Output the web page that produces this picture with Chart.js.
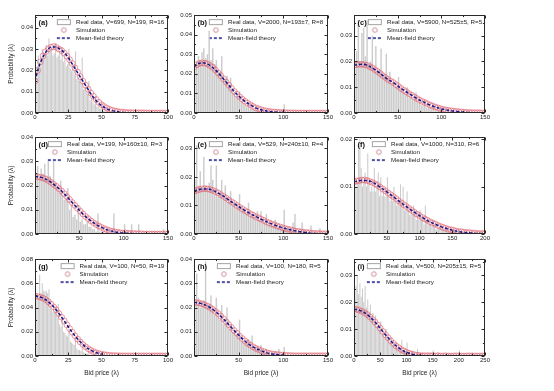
<!DOCTYPE html>
<html><head><meta charset="utf-8">
<script src="https://cdn.jsdelivr.net/npm/chart.js@4.4.1/dist/chart.umd.min.js"></script>
<style>
html,body{margin:0;padding:0;background:#fff;width:554px;height:391px;overflow:hidden;}
#wrap{position:relative;width:554px;height:391px;background:#fff;}
canvas{position:absolute;}
</style></head><body><div id="wrap"></div>
<script>
function seq(start, step, n){ const o=[]; for(let i=0;i<n;i++) o.push(+(start+i*step).toFixed(4)); return o; }

// ---------- (a) ----------
const aBars = [0.015,0.022,0.027,0.024,0.026,0.030,0.026,0.028,0.032,0.027, 0.035,0.029,0.030,0.027,0.028,0.033,0.026,0.027,0.029,0.025, 0.031,0.024,0.026,0.022,0.023,0.030,0.021,0.020,0.022,0.018, 0.029,0.016,0.017,0.015,0.014,0.026,0.011,0.012,0.010,0.009, 0.015,0.006,0.007,0.005,0.004,0.008,0.003,0.003,0.002,0.002, 0.005,0.001,0.001,0.001,0.0005,0.002,0.0005,0,0.0005,0, 0.001];
const aBarX = seq(0.5, 1, aBars.length);
const aSim = [0.0150,0.0200,0.0240,0.0268,0.0288,0.0301,0.0309,0.0312,0.0308,0.0300,0.0293,0.0281,0.0267,0.0250,0.0232,0.0212,0.0192,0.0171,0.0150,0.0131,0.0112,0.0094,0.0078,0.0063,0.0050,0.0039,0.0030,0.0023,0.0017,0.0013,0.0009,0.0007,0.0005,0.0004,0.0003,0.0002,0.0002,0.0001,0.0001,0.0001,0.0001,0.0001,0,0,0,0,0,0,0,0,0];
const aSimX = seq(0, 2, aSim.length);
const aTheoryX = [0,2.5,5,7.5,10,12.5,15,17.5,20,22.5,25,27.5,30,32.5,35,37.5,40,42.5,45,47.5,50,52.5,55,60,65,70];
const aTheoryY = [0.015,0.021,0.025,0.028,0.030,0.031,0.031,0.0305,0.0295,0.028,0.026,0.0235,0.021,0.0185,0.016,0.0135,0.011,0.0085,0.0065,0.0048,0.0035,0.0025,0.0017,0.0008,0.0003,0.0001];

// ---------- (b) ----------
const bBars = [0.022,0.026,0.029,0.027,0.031, 0.033,0.028,0.030,0.042,0.027, 0.033,0.025,0.027,0.022,0.021, 0.029,0.018,0.017,0.019,0.014, 0.018,0.011,0.010,0.008,0.009, 0.011,0.006,0.005,0.004,0.003, 0.005,0.002,0.002,0.0015,0.0012, 0.002,0.0008,0.0008,0.0006,0.0005, 0.0012,0.0004,0.0003,0.0003,0.0002, 0.0005,0.0002,0.0002,0.0001,0.0001, 0.0045,0.0002,0.0001,0.0001,0.0001, 0.0008,0.0001,0,0,0, 0.0005,0,0,0,0, 0.0002,0,0,0,0, 0.0002,0,0,0,0];
const bBarX = seq(1, 2, bBars.length);
const bSim = [0.0235,0.0246,0.0253,0.0256,0.0254,0.0250,0.0242,0.0233,0.0220,0.0205,0.0190,0.0174,0.0158,0.0142,0.0126,0.0110,0.0096,0.0083,0.0071,0.0060,0.0050,0.0042,0.0034,0.0027,0.0022,0.0017,0.0013,0.0010,0.0008,0.0006,0.0005,0.0004,0.0003,0.0002,0.0002,0.0001,0.0001,0.0001,0,0,0,0,0,0,0,0,0,0,0,0,0];
const bSimX = seq(0, 3, bSim.length);
const bTheoryX = [0,5,10,15,20,25,30,35,40,45,50,55,60,65,70,75,80,90,100];
const bTheoryY = [0.0235,0.0252,0.0256,0.0250,0.0236,0.0215,0.019,0.0163,0.0136,0.011,0.0087,0.0067,0.005,0.0036,0.0025,0.0017,0.0011,0.0005,0.0002];

// ---------- (c) ----------
const cBars = [0.017,0.024,0.036,0.020,0.031, 0.033,0.022,0.036,0.019,0.020, 0.030,0.017,0.026,0.016,0.017, 0.025,0.014,0.015,0.023,0.013, 0.016,0.011,0.012,0.010,0.010, 0.014,0.009,0.009,0.008,0.007, 0.010,0.006,0.006,0.005,0.005, 0.008,0.004,0.004,0.003,0.003, 0.005,0.002,0.002,0.002,0.0015, 0.003,0.001,0.001,0.001,0.001, 0.002,0.0005,0.0005,0.0005,0.0005, 0.001,0.0003,0.0003,0.0003,0.0003, 0.0008,0.0002,0.0002,0.0002,0.0002, 0.0005,0.0001,0.0001,0.0001,0.0001, 0.0003,0.0001,0,0,0];
const cBarX = seq(1, 2, cBars.length);
const cSim = [0.0185,0.0187,0.0189,0.0189,0.0187,0.0185,0.0180,0.0175,0.0168,0.0161,0.0153,0.0145,0.0138,0.0130,0.0124,0.0118,0.0110,0.0103,0.0095,0.0088,0.0082,0.0075,0.0069,0.0062,0.0056,0.0050,0.0045,0.0041,0.0036,0.0031,0.0027,0.0023,0.0020,0.0017,0.0014,0.0012,0.0010,0.0009,0.0007,0.0006,0.0005,0.0004,0.0003,0.0002,0.0002,0.0001,0.0001,0.0001,0.0001,0,0];
const cSimX = seq(0, 3, cSim.length);
const cTheoryX = [0,5,10,15,20,25,30,35,40,45,50,55,60,65,70,75,80,85,90,95,100,110,120,130,140];
const cTheoryY = [0.0185,0.0188,0.0189,0.0185,0.0177,0.0166,0.0153,0.0140,0.0128,0.0118,0.0105,0.0093,0.0082,0.0071,0.006,0.005,0.0042,0.0034,0.0027,0.0021,0.0016,0.0009,0.0005,0.0002,0.0001];

// ---------- (d) ----------
const dBars = [0.025,0.028,0.024,0.027,0.025, 0.029,0.023,0.030,0.024,0.022, 0.030,0.021,0.019,0.017,0.022, 0.016,0.014,0.015,0.019,0.010, 0.012,0.007,0.008,0.006,0.012, 0.005,0.006,0.004,0.004,0.005, 0.003,0.003,0.002,0.002,0.001, 0.0085,0.001,0.001,0.001,0.0005, 0.002,0.0005,0.0005,0.0005,0.0085, 0.0005,0,0,0,0.0005, 0.004,0,0,0,0.004, 0,0,0,0.004,0, 0.0005,0,0,0,0, 0,0,0.001,0,0, 0,0,0.002,0,0];
const dBarX = seq(1, 2, dBars.length);
const dSim = [0.0237,0.0236,0.0234,0.0231,0.0227,0.0221,0.0213,0.0205,0.0197,0.0187,0.0177,0.0166,0.0154,0.0142,0.0130,0.0118,0.0106,0.0094,0.0083,0.0072,0.0063,0.0054,0.0046,0.0039,0.0033,0.0027,0.0022,0.0018,0.0014,0.0011,0.0009,0.0007,0.0005,0.0004,0.0004,0.0003,0.0002,0.0002,0.0001,0.0001,0.0001,0,0,0,0,0,0,0,0,0,0];
const dSimX = seq(0, 3, dSim.length);
const dTheoryX = [0,5,10,15,20,25,30,35,40,45,50,55,60,65,70,75,80,85,90,100,110];
const dTheoryY = [0.0237,0.0235,0.023,0.0221,0.0208,0.0194,0.0177,0.0158,0.0138,0.0118,0.0098,0.0079,0.0063,0.0049,0.0037,0.0027,0.0019,0.0013,0.0009,0.0004,0.0002];

// ---------- (e) ----------
const eBars = [0.019,0.031,0.017,0.022,0.016, 0.027,0.017,0.016,0.018,0.024, 0.019,0.014,0.024,0.013,0.014, 0.019,0.012,0.017,0.011,0.012, 0.015,0.010,0.011,0.009,0.010, 0.014,0.008,0.009,0.008,0.007, 0.011,0.006,0.007,0.006,0.005, 0.008,0.005,0.008,0.004,0.004, 0.007,0.003,0.004,0.003,0.003, 0.005,0.002,0.003,0.002,0.002, 0.0085,0.002,0.002,0.0015,0.0015, 0.004,0.007,0.001,0.001,0.001, 0.004,0.001,0.001,0.0005,0.001, 0.003,0.0005,0.0005,0.0005,0.0005, 0.002,0.0005,0.0005,0,0.001];
const eBarX = seq(1, 2, eBars.length);
const eSim = [0.0150,0.0153,0.0156,0.0158,0.0159,0.0158,0.0156,0.0153,0.0149,0.0144,0.0138,0.0132,0.0126,0.0119,0.0113,0.0107,0.0100,0.0094,0.0088,0.0082,0.0077,0.0071,0.0066,0.0061,0.0057,0.0052,0.0048,0.0043,0.0039,0.0035,0.0032,0.0028,0.0025,0.0022,0.0019,0.0017,0.0015,0.0012,0.0010,0.0009,0.0007,0.0006,0.0005,0.0004,0.0003,0.0002,0.0002,0.0001,0.0001,0.0001,0];
const eSimX = seq(0, 3, eSim.length);
const eTheoryX = [0,5,10,15,20,25,30,35,40,45,50,55,60,65,70,75,80,85,90,95,100,105,110,115,120,125,130,140,150];
const eTheoryY = [0.0150,0.0155,0.0158,0.0158,0.0154,0.0147,0.0138,0.0128,0.0117,0.0107,0.0096,0.0086,0.0077,0.0068,0.006,0.0052,0.0045,0.0038,0.0032,0.0026,0.0021,0.0017,0.0013,0.001,0.0007,0.0005,0.0003,0.0001,0];

// ---------- (f) ----------
const fBars = [0.012,0.010,0.011,0.018,0.020, 0.014,0.010,0.011,0.013,0.010, 0.017,0.011,0.009,0.010,0.009, 0.014,0.009,0.010,0.013,0.008, 0.012,0.008,0.009,0.008,0.008, 0.012,0.008,0.007,0.008,0.007, 0.010,0.007,0.006,0.007,0.006, 0.0105,0.006,0.010,0.005,0.005, 0.009,0.005,0.004,0.005,0.004, 0.006,0.004,0.003,0.004,0.003, 0.005,0.003,0.003,0.002,0.006, 0.003,0.002,0.002,0.002,0.0015, 0.003,0.0015,0.001,0.001,0.001, 0.002,0.001,0.001,0.0008,0.0008, 0.0015,0.0005,0.0005,0.0005,0.0005, 0.001,0.0004,0.0004,0.0004,0.0004, 0.0008,0.0003,0.0003,0.0003,0.0003, 0.0006,0.0002,0.0002,0.0002,0.0002, 0.0005,0.0002,0.0002,0.0002,0.0002, 0.0004,0.0001,0.0001,0.0001,0.0001];
const fBarX = seq(1, 2, fBars.length);
const fSim = [0.0110,0.0112,0.0113,0.0114,0.0114,0.0113,0.0111,0.0109,0.0106,0.0103,0.0099,0.0095,0.0091,0.0087,0.0083,0.0079,0.0075,0.0070,0.0066,0.0062,0.0058,0.0054,0.0050,0.0046,0.0042,0.0039,0.0035,0.0032,0.0029,0.0026,0.0023,0.0021,0.0018,0.0016,0.0014,0.0012,0.0010,0.0009,0.0008,0.0006,0.0005,0.0005,0.0004,0.0003,0.0003,0.0002,0.0002,0.0001,0.0001,0.0001,0.0001];
const fSimX = seq(0, 4, fSim.length);
const fTheoryX = [0,10,20,30,40,50,60,70,80,90,100,110,120,130,140,150,160,170,180,190,200];
const fTheoryY = [0.0110,0.0113,0.0113,0.0108,0.0099,0.0089,0.0079,0.0068,0.0058,0.0048,0.0039,0.003,0.0023,0.0017,0.0012,0.0008,0.0005,0.0003,0.0002,0.0001,0.0001];

// ---------- (g) ----------
const gBars = [0.045,0.048,0.050,0.067,0.052, 0.060,0.054,0.053,0.054,0.052, 0.055,0.040,0.038,0.036,0.037, 0.040,0.033,0.043,0.026,0.024, 0.030,0.020,0.019,0.017,0.016, 0.022,0.012,0.011,0.010,0.009, 0.014,0.006,0.005,0.005,0.004, 0.007,0.003,0.002,0.002,0.002, 0.004,0.001,0.001,0.001,0.0005, 0.002,0.0005,0,0,0, 0.003];
const gBarX = seq(0.5, 1, gBars.length);
const gSim = [0.0495,0.0491,0.0485,0.0477,0.0465,0.0448,0.0428,0.0405,0.0379,0.0350,0.0320,0.0289,0.0257,0.0226,0.0196,0.0167,0.0140,0.0116,0.0095,0.0076,0.0060,0.0047,0.0036,0.0027,0.0020,0.0015,0.0011,0.0008,0.0005,0.0004,0.0003,0.0002,0.0002,0.0001,0.0001,0.0001,0.0001,0.0001,0.0001,0.0001,0.0001,0.0001,0.0001,0.0001,0.0001,0.0001,0.0001,0.0001,0.0001,0.0001,0.0001];
const gSimX = seq(0, 2, gSim.length);
const gTheoryX = [0,2.5,5,7.5,10,12.5,15,17.5,20,22.5,25,27.5,30,32.5,35,37.5,40,42.5,45,47.5,50];
const gTheoryY = [0.0495,0.049,0.0482,0.0468,0.0448,0.0423,0.0393,0.0358,0.032,0.0281,0.0241,0.0203,0.0167,0.0134,0.0105,0.008,0.006,0.0044,0.0031,0.0022,0.0015];

// ---------- (h) ----------
const hBars = [0.021,0.034,0.024,0.020,0.022, 0.023,0.039,0.020,0.021,0.025, 0.020,0.017,0.024,0.016,0.015, 0.021,0.013,0.014,0.020,0.011, 0.013,0.010,0.010,0.009,0.008, 0.015,0.006,0.006,0.005,0.005, 0.007,0.004,0.0085,0.003,0.003, 0.004,0.002,0.0045,0.002,0.0015, 0.003,0.001,0.001,0.001,0.001, 0.002,0.0005,0.003,0.0005,0.0005, 0.0037,0.0003,0.0003,0.0002,0.0002, 0.0005,0.0002,0.0001,0.0001,0.0001, 0.0004,0.0001,0,0,0, 0.0002,0,0,0,0, 0.0001,0,0,0,0];
const hBarX = seq(1, 2, hBars.length);
const hSim = [0.0221,0.0220,0.0218,0.0215,0.0211,0.0206,0.0200,0.0192,0.0184,0.0175,0.0164,0.0153,0.0141,0.0129,0.0117,0.0105,0.0094,0.0082,0.0072,0.0062,0.0053,0.0045,0.0038,0.0032,0.0027,0.0022,0.0018,0.0014,0.0011,0.0009,0.0007,0.0006,0.0005,0.0004,0.0003,0.0002,0.0002,0.0001,0.0001,0.0001,0.0001,0.0001,0.0001,0.0001,0.0001,0.0001,0.0001,0.0001,0.0001,0.0001,0.0001];
const hSimX = seq(0, 3, hSim.length);
const hTheoryX = [0,5,10,15,20,25,30,35,40,45,50,55,60,65,70,75,80,85,90,100];
const hTheoryY = [0.0221,0.0219,0.0214,0.0206,0.0195,0.0181,0.0164,0.0145,0.0125,0.0105,0.0086,0.0068,0.0053,0.004,0.003,0.0022,0.0015,0.001,0.0007,0.0003];

// ---------- (i) ----------
const iBars = [0.022,0.026,0.030,0.023,0.027, 0.022,0.025,0.020,0.026,0.018, 0.021,0.016,0.019,0.014,0.016, 0.012,0.015,0.011,0.012,0.010, 0.013,0.008,0.009,0.007,0.010, 0.006,0.007,0.005,0.007,0.004, 0.005,0.003,0.005,0.003,0.003, 0.002,0.006,0.002,0.002,0.0015, 0.005,0.001,0.0015,0.001,0.002, 0.0008,0.001,0.0005,0.0026,0.0005, 0.001,0.0005,0.0012,0.0003,0.0005, 0.0003,0.001,0.0003,0.0005,0.0002, 0.002,0.0002,0.0003,0.0002,0.0013, 0.0002,0.0002,0.0002,0.0006,0.0002, 0.0005,0.0002,0.0008,0.0001,0.0002, 0.0001,0.0005,0.0001,0.0002,0.0001, 0.002,0.0001,0.0002,0.0001,0.0005, 0.0001,0.0001,0.0001,0.0006,0.0001, 0.0013,0.0001,0.0004,0.0001,0.0001, 0.0001,0.0004,0.0001,0.0001,0.001];
const iBarX = seq(1.25, 2.5, iBars.length);
const iSim = [0.0174,0.0173,0.0170,0.0166,0.0161,0.0154,0.0146,0.0136,0.0126,0.0115,0.0103,0.0091,0.0079,0.0068,0.0057,0.0047,0.0038,0.0031,0.0024,0.0019,0.0014,0.0010,0.0007,0.0005,0.0003,0.0002,0.0001,0.0001,0.0001,0.0001,0.0001,0,0.0001,0,0,0.0001,0,0,0,0.0001,0,0,0,0,0.0001,0,0,0,0,0,0];
const iSimX = seq(0, 5, iSim.length);
const iTheoryX = [0,10,20,30,40,50,60,70,80,90,100,110,120,130,140,150];
const iTheoryY = [0.0174,0.017,0.0161,0.0146,0.0126,0.0103,0.0079,0.0057,0.0038,0.0024,0.0014,0.0007,0.0003,0.0001,0.0001,0];

// ---------- panels ----------
const panels = [
 {label:'(a)', col:0,row:0, legend:'Real data, V=699, N=199, R=16', xMax:100, xStep:25, yMax:0.046, yStep:0.01, barX:aBarX, bars:aBars, simX:aSimX, sim:aSim, thX:aTheoryX, thY:aTheoryY, textOff:41, hideZero:false},
 {label:'(b)', col:1,row:0, legend:'Real data, V=2000, N=193±7, R=8', xMax:150, xStep:50, yMax:0.05, yStep:0.01, barX:bBarX, bars:bBars, simX:bSimX, sim:bSim, thX:bTheoryX, thY:bTheoryY, textOff:34, hideZero:false},
 {label:'(c)', col:2,row:0, legend:'Real data, V=5900, N=525±5, R=5', xMax:150, xStep:50, yMax:0.038, yStep:0.01, barX:cBarX, bars:cBars, simX:cSimX, sim:cSim, thX:cTheoryX, thY:cTheoryY, textOff:33, hideZero:false},
 {label:'(d)', col:0,row:1, legend:'Real data, V=199, N=160±10, R=3', xMax:150, xStep:50, yMax:0.04, yStep:0.01, barX:dBarX, bars:dBars, simX:dSimX, sim:dSim, thX:dTheoryX, thY:dTheoryY, textOff:32, hideZero:true},
 {label:'(e)', col:1,row:1, legend:'Real data, V=529, N=240±10, R=4', xMax:150, xStep:50, yMax:0.034, yStep:0.01, barX:eBarX, bars:eBars, simX:eSimX, sim:eSim, thX:eTheoryX, thY:eTheoryY, textOff:34, hideZero:false},
 {label:'(f)', col:2,row:1, legend:'Real data, V=1000, N=310, R=6', xMax:200, xStep:50, yMax:0.0205, yStep:0.01, barX:fBarX, bars:fBars, simX:fSimX, sim:fSim, thX:fTheoryX, thY:fTheoryY, textOff:37, hideZero:true},
 {label:'(g)', col:0,row:2, legend:'Real data, V=100, N=50, R=19', xMax:100, xStep:25, yMax:0.08, yStep:0.02, barX:gBarX, bars:gBars, simX:gSimX, sim:gSim, thX:gTheoryX, thY:gTheoryY, textOff:44.5, hideZero:false},
 {label:'(h)', col:1,row:2, legend:'Real data, V=100, N=180, R=5', xMax:150, xStep:50, yMax:0.04, yStep:0.01, barX:hBarX, bars:hBars, simX:hSimX, sim:hSim, thX:hTheoryX, thY:hTheoryY, textOff:42, hideZero:true},
 {label:'(i)', col:2,row:2, legend:'Real data, V=500, N=205±15, R=5', xMax:250, xStep:50, yMax:0.036, yStep:0.01, barX:iBarX, bars:iBars, simX:iSimX, sim:iSim, thX:iTheoryX, thY:iTheoryY, textOff:32, hideZero:false}
];

// ---------- layout / style ----------
const FONT = "'Liberation Sans', Arial, Helvetica, sans-serif";
Chart.defaults.font.family = FONT;
Chart.defaults.color = '#222';
const COLS = [{L:35,R:168,wy:35},{L:194,R:328,wy:28},{L:354,R:485,wy:28}];
const ROWS = [{T:15,B:113,hx:10},{T:137,B:234,hx:10},{T:259,B:356,hx:21}];
const PAD_T = 6, PAD_R = 10;
const LEG_FONT = 6.2, LEG_PAD = 1.8;
const THEORY_COLOR = '#16168a';
const SIM_COLOR = 'rgba(222,95,110,0.8)';
const BAR_COLOR = 'rgba(200,200,200,0.95)';

function icon(kind, w){
  const c = document.createElement('canvas');
  c.width = Math.max(16, Math.round(w)); c.height = 8;
  const g = c.getContext('2d'); const x0 = c.width - 16;
  if (kind === 'rect') {
    g.fillStyle = '#fff'; g.fillRect(x0+0.5, 1.5, 13, 5);
    g.strokeStyle = '#a4a4a4'; g.lineWidth = 1; g.strokeRect(x0+0.5, 1.5, 13, 5);
  } else if (kind === 'circle') {
    g.strokeStyle = 'rgba(200,125,135,0.95)'; g.lineWidth = 0.9;
    g.beginPath(); g.arc(x0+7, 4, 2.3, 0, Math.PI*2); g.stroke();
  } else {
    g.strokeStyle = THEORY_COLOR; g.lineWidth = 1.4; g.setLineDash([3,2]);
    g.beginPath(); g.moveTo(x0, 4); g.lineTo(x0+14, 4); g.stroke();
  }
  return c;
}

const framePlugin = {
  id: 'frame',
  afterDraw(chart, args, o) {
    const {ctx, chartArea: a, scales: {x, y}} = chart;
    const l = Math.round(a.left)+0.5, r = Math.round(a.right)-0.5, t = Math.round(a.top)+0.5, b = Math.round(a.bottom)-0.5;
    ctx.save();
    ctx.strokeStyle = '#2a2a2a'; ctx.lineWidth = 1;
    ctx.beginPath();
    for (let k = 0; k*o.xStep/2 <= x.max + 1e-9; k++) {
      const v = k*o.xStep/2; const len = (k % 2 === 0) ? 3 : 1.6;
      const px = Math.round(x.getPixelForValue(v)) + 0.5;
      ctx.moveTo(px, b); ctx.lineTo(px, b-len); ctx.moveTo(px, t); ctx.lineTo(px, t+len);
    }
    for (let k = 0; k*o.yStep/2 <= y.max + 1e-9; k++) {
      const v = k*o.yStep/2; const len = (k % 2 === 0) ? 3 : 1.6;
      const py = Math.round(y.getPixelForValue(v)) + 0.5;
      ctx.moveTo(l, py); ctx.lineTo(l+len, py); ctx.moveTo(r, py); ctx.lineTo(r-len, py);
    }
    ctx.stroke();
    ctx.strokeRect(l, t, r-l, b-t);
    ctx.fillStyle = '#111'; ctx.textBaseline = 'middle'; ctx.textAlign = 'left';
    ctx.font = 'bold 7.5px ' + FONT;
    ctx.fillText(o.label, a.left + 3.5, a.top + 7.5);
    ctx.restore();
  }
};
Chart.register(framePlugin);

function pts(xs, ys){ return ys.map((v,i)=>({x:xs[i], y:v})); }

panels.forEach(p => {
  const col = COLS[p.col], row = ROWS[p.row];
  const left = col.L - col.wy, top = row.T - PAD_T;
  const w = col.R - left + PAD_R, h = row.B - top + row.hx;
  const cv = document.createElement('canvas');
  cv.width = w; cv.height = h;
  cv.style.left = left + 'px'; cv.style.top = top + 'px';
  cv.style.width = w + 'px'; cv.style.height = h + 'px';
  document.getElementById('wrap').appendChild(cv);
  const psw = p.textOff - LEG_PAD - LEG_FONT/2;
  new Chart(cv, {
    type: 'bar',
    data: { datasets: [
      {type:'line', label:'Mean-field theory', data: pts(p.thX, p.thY), borderColor: THEORY_COLOR, borderWidth: 1.5, borderDash:[3,2], pointRadius:0, fill:false, cubicInterpolationMode:'monotone', order:0},
      {type:'scatter', label:'Simulation', data: pts(p.simX, p.sim), pointStyle:'circle', pointRadius:2.9, borderWidth:0.8, borderColor: SIM_COLOR, backgroundColor:'rgba(0,0,0,0)', showLine:false, order:1},
      {type:'bar', label:'Real data', data: pts(p.barX, p.bars), backgroundColor: BAR_COLOR, borderWidth:0, barPercentage:0.8, categoryPercentage:1, order:2}
    ]},
    options: {
      responsive:false, devicePixelRatio:1, animation:false, events:[],
      layout: { padding: {top:PAD_T, right:PAD_R, left:0, bottom:0} },
      scales: {
        x: { type:'linear', min:0, max:p.xMax, offset:false,
             grid:{display:false, drawTicks:false}, border:{display:false},
             ticks:{stepSize:p.xStep, autoSkip:false, maxRotation:0, padding:1, font:{size:6}, color:'#222',
                    callback:(v)=> (p.hideZero && v===0) ? '' : String(v)},
             title: p.row===2 ? {display:true, text:'Bid price (λ)', font:{size:6.5}, padding:0, color:'#222'} : {display:false},
             afterFit(s){ s.height = row.hx; } },
        y: { min:0, max:p.yMax,
             grid:{display:false, drawTicks:false}, border:{display:false},
             ticks:{stepSize:p.yStep, includeBounds:false, padding:2, font:{size:6}, color:'#222', callback:(v)=> v.toFixed(2)},
             title: p.col===0 ? {display:true, text:'Probability (λ)', font:{size:6.5}, padding:{top:7,bottom:0}, color:'#222'} : {display:false},
             afterFit(s){ s.width = col.wy; } }
      },
      plugins: {
        tooltip:{enabled:false},
        frame:{label:p.label, xStep:p.xStep, yStep:p.yStep},
        legend:{ display:true, position:'chartArea', align:'start',
          title:{display:true, text:'', font:{size:1}, padding:{top:0,bottom:1 + PAD_T}},
          labels:{ usePointStyle:true, pointStyleWidth: psw, padding: LEG_PAD, color:'#222', font:{size:LEG_FONT},
            generateLabels: () => [
              {text:p.legend, pointStyle: icon('rect', psw), fillStyle:'#fff', strokeStyle:'#fff', lineWidth:0, hidden:false, datasetIndex:2, fontColor:'#222'},
              {text:'Simulation', pointStyle: icon('circle', psw), fillStyle:'#fff', strokeStyle:'#fff', lineWidth:0, hidden:false, datasetIndex:1, fontColor:'#222'},
              {text:'Mean-field theory', pointStyle: icon('line', psw), fillStyle:'#fff', strokeStyle:'#fff', lineWidth:0, hidden:false, datasetIndex:0, fontColor:'#222'}
            ] } }
      }
    }
  });
});
</script></body></html>
